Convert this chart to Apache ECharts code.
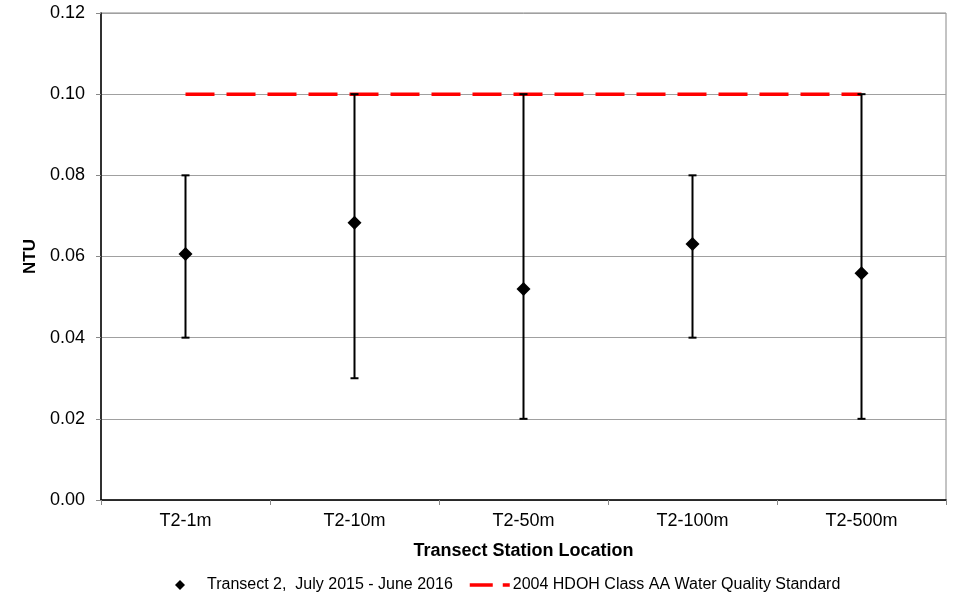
<!DOCTYPE html>
<html>
<head>
<meta charset="utf-8">
<script src="https://cdn.jsdelivr.net/npm/echarts@6/dist/echarts.min.js"></script>
<style>
html,body{margin:0;padding:0;background:#fff;}
#chart{width:955px;height:599px;}
</style>
</head>
<body>
<div id="chart"></div>
<script>
const categories = ['T2-1m', 'T2-10m', 'T2-50m', 'T2-100m', 'T2-500m'];
const meanValues = [0.0606, 0.0683, 0.0520, 0.0631, 0.0559];
const minValues = [0.04, 0.03, 0.02, 0.04, 0.02];
const maxValues = [0.08, 0.10, 0.10, 0.08, 0.10];
const standardValues = [0.10, 0.10, 0.10, 0.10, 0.10];
const seriesNames = ['Transect 2,  July 2015 - June 2016', '2004 HDOH Class AA Water Quality Standard'];
const xTitle = 'Transect Station Location';
const yTitle = 'NTU';

const FONT = "Arial, 'Liberation Sans', sans-serif";
const errData = categories.map((c, i) => [i, minValues[i], maxValues[i]]);

const chart = echarts.init(document.getElementById('chart'), null, {renderer: 'canvas'});
chart.setOption({
  animation: false,
  backgroundColor: '#fff',
  textStyle: {fontFamily: FONT},
  grid: {left: 101, right: 9, top: 13, bottom: 99, show: true, borderColor: '#888', borderWidth: 1},
  legend: [
    {
      data: [seriesNames[0]],
      left: 175, top: 577,
      padding: 0,
      icon: 'diamond',
      itemWidth: 10, itemHeight: 10,
      itemStyle: {opacity: 1, color: '#000'},
      textStyle: {fontFamily: FONT, fontSize: 16, color: '#000', padding: [0, 0, 0, 17]},
      selectedMode: false
    },
    {
      data: [seriesNames[1]],
      left: 468, top: 577,
      padding: 0,
      itemWidth: 40, itemHeight: 10,
      itemStyle: {opacity: 0},
      lineStyle: {type: [23, 10], width: 3.5, color: '#ff0000', opacity: 1},
      textStyle: {fontFamily: FONT, fontSize: 16, color: '#000', padding: [0, 0, 0, -2]},
      selectedMode: false
    }
  ],
  xAxis: {
    type: 'category',
    data: categories,
    boundaryGap: true,
    name: xTitle,
    nameLocation: 'middle',
    nameGap: 42,
    nameTextStyle: {fontFamily: FONT, fontSize: 18, fontWeight: 'bold', color: '#000'},
    axisLine: {lineStyle: {color: '#000', width: 1.5}},
    axisTick: {show: true, length: 5, alignWithLabel: false, lineStyle: {color: '#888'}},
    axisLabel: {fontFamily: FONT, fontSize: 18, color: '#000', margin: 12},
    splitLine: {show: false}
  },
  yAxis: {
    type: 'value',
    min: 0, max: 0.12, interval: 0.02,
    name: yTitle,
    nameLocation: 'middle',
    nameGap: 62,
    nameRotate: 90,
    nameTextStyle: {fontFamily: FONT, fontSize: 17, fontWeight: 'bold', color: '#000'},
    axisLine: {show: true, lineStyle: {color: '#000', width: 1.5}},
    axisTick: {show: true, length: 5, lineStyle: {color: '#888'}},
    axisLabel: {fontFamily: FONT, fontSize: 18, color: '#000', margin: 16, formatter: v => v.toFixed(2)},
    splitLine: {show: true, lineStyle: {color: '#a0a0a0', width: 1}}
  },
  series: [
    {
      name: seriesNames[1],
      type: 'line',
      data: standardValues,
      symbol: 'none',
      showSymbol: false,
      z: 2,
      lineStyle: {color: '#ff0000', width: 3.5, type: [29, 12]},
      itemStyle: {color: '#ff0000'},
      silent: true
    },
    {
      name: 'errorbars',
      type: 'custom',
      z: 3,
      silent: true,
      data: errData,
      renderItem: function (params, api) {
        const lo = api.coord([api.value(0), api.value(1)]);
        const hi = api.coord([api.value(0), api.value(2)]);
        const hw = 4;
        const st = {stroke: '#000', lineWidth: 2};
        return {
          type: 'group',
          children: [
            {type: 'line', shape: {x1: lo[0], y1: lo[1], x2: hi[0], y2: hi[1]}, style: st},
            {type: 'line', shape: {x1: lo[0] - hw, y1: lo[1], x2: lo[0] + hw, y2: lo[1]}, style: st},
            {type: 'line', shape: {x1: hi[0] - hw, y1: hi[1], x2: hi[0] + hw, y2: hi[1]}, style: st}
          ]
        };
      }
    },
    {
      name: seriesNames[0],
      type: 'scatter',
      data: meanValues,
      symbol: 'diamond',
      symbolSize: 14,
      z: 4,
      itemStyle: {color: '#000', opacity: 1},
      silent: true
    }
  ]
});
</script>
</body>
</html>
